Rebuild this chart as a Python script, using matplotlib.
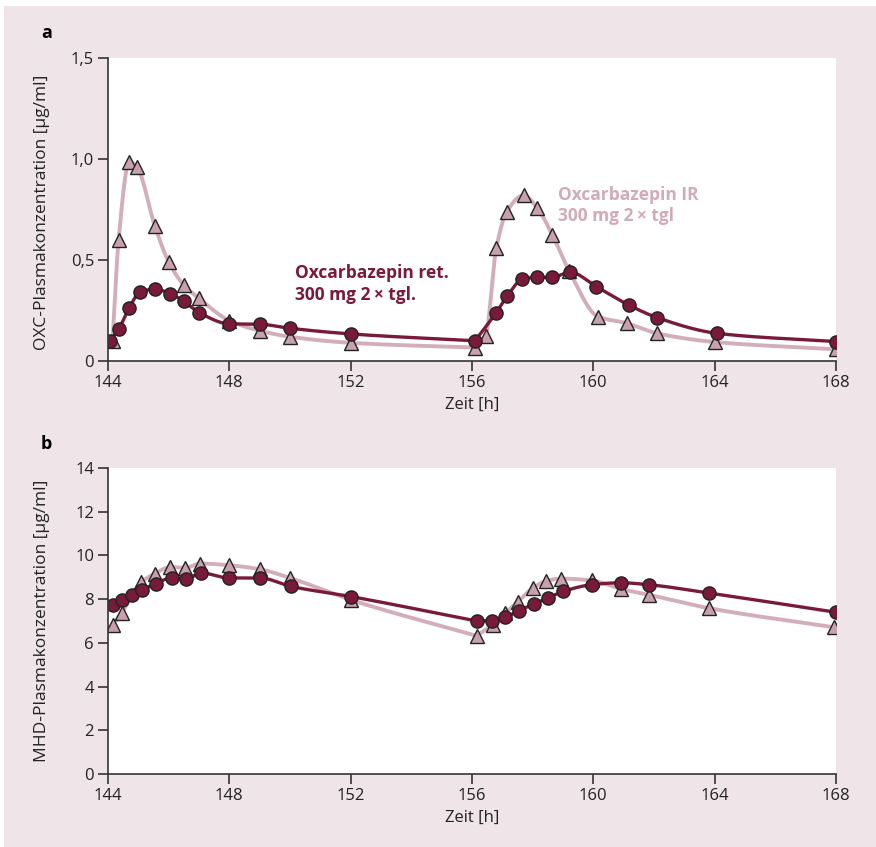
import numpy as np
import matplotlib
matplotlib.use("Agg")
import matplotlib.pyplot as plt
from matplotlib.patches import Rectangle

plt.rcParams['font.family'] = ['Open Sans', 'DejaVu Sans']

# ---------------- data ----------------
# Panel a: OXC plasma concentration [µg/ml]
t_ir_a = [144.15, 144.35, 144.7, 144.95, 145.55, 146.0, 146.5, 147.0, 148.0, 149.0, 150.0, 152.0,
          156.1, 156.45, 156.8, 157.15, 157.7, 158.15, 158.65, 159.2, 160.15, 161.1, 162.1, 164.0, 168.0]
c_ir_a = [0.10, 0.60, 0.985, 0.96, 0.666, 0.49, 0.376, 0.31, 0.20, 0.15, 0.12, 0.09,
          0.066, 0.124, 0.558, 0.74, 0.82, 0.758, 0.624, 0.447, 0.22, 0.187, 0.137, 0.094, 0.058]

t_ret_a = [144.07, 144.36, 144.69, 145.05, 145.55, 146.04, 146.5, 147.0, 148.0, 149.0, 150.0, 152.0,
           156.1, 156.8, 157.17, 157.66, 158.13, 158.65, 159.23, 160.1, 161.17, 162.1, 164.08, 168.0]
c_ret_a = [0.10, 0.16, 0.26, 0.34, 0.356, 0.334, 0.295, 0.24, 0.184, 0.182, 0.162, 0.134,
           0.10, 0.24, 0.323, 0.405, 0.414, 0.414, 0.44, 0.368, 0.277, 0.215, 0.137, 0.096]

# Panel b: MHD plasma concentration [µg/ml]
t_ir_b = [144.15, 144.45, 145.1, 145.55, 146.06, 146.55, 147.03, 148.0, 149.0, 150.0, 152.0,
          156.15, 156.68, 157.08, 157.5, 158.0, 158.45, 158.92, 159.94, 160.9, 161.83, 163.8, 167.95]
c_ir_b = [6.82, 7.37, 8.78, 9.17, 9.47, 9.43, 9.63, 9.55, 9.37, 8.97, 7.97,
          6.32, 6.83, 7.35, 7.86, 8.5, 8.83, 8.94, 8.86, 8.47, 8.2, 7.59, 6.71]

t_ret_b = [144.15, 144.45, 144.8, 145.13, 145.57, 146.1, 146.57, 147.06, 148.0, 149.0, 150.04, 152.0,
           156.15, 156.67, 157.1, 157.55, 158.05, 158.5, 159.0, 159.94, 160.9, 161.83, 163.8, 168.0]
c_ret_b = [7.74, 7.97, 8.17, 8.43, 8.71, 8.97, 8.9, 9.2, 8.97, 8.97, 8.58, 8.12,
           7.0, 7.02, 7.17, 7.48, 7.78, 8.05, 8.35, 8.66, 8.75, 8.66, 8.28, 7.40]

# second dose time (curves have a kink there)
dose_time = 156.0

x_ticks = [144, 148, 152, 156, 160, 164, 168]
y_ticks_a = [0, 0.5, 1.0, 1.5]
y_ticklabels_a = ["0", "0,5", "1,0", "1,5"]
y_ticks_b = [0, 2, 4, 6, 8, 10, 12, 14]

label_ret = "Oxcarbazepin ret.\n300 mg 2\u2009\u00d7 tgl."
label_ir = "Oxcarbazepin IR\n300 mg 2\u2009\u00d7 tgl"

# ---------------- style ----------------
BG = '#efe4e8'
DARK = '#7a1a3b'
IR_LINE = '#d3aeba'
IR_FILL = '#c9a1ae'
IR_TEXT = '#d2abb8'
SPINE = '#333333'


def smooth(x, y, xn, kink_x):
    """Monotone cubic Hermite curve through the points, with a kink at kink_x."""
    x = np.asarray(x, float); y = np.asarray(y, float)
    h = np.diff(x); d = np.diff(y) / h
    n = len(x)
    mL = np.zeros(n)  # slope used by segment ending at point
    mR = np.zeros(n)  # slope used by segment starting at point
    for k in range(1, n - 1):
        if abs(x[k] - kink_x) < 0.4:
            mL[k] = d[k - 1]
            mR[k] = d[k]
            continue
        if d[k - 1] * d[k] <= 0:
            m = 0.0
        else:
            w1 = 2 * h[k] + h[k - 1]
            w2 = h[k] + 2 * h[k - 1]
            m = (w1 + w2) / (w1 / d[k - 1] + w2 / d[k])
        mL[k] = mR[k] = m
    mR[0] = d[0]; mL[-1] = d[-1]
    idx = np.clip(np.searchsorted(x, xn) - 1, 0, n - 2)
    t = (xn - x[idx]) / h[idx]
    h00 = 2 * t**3 - 3 * t**2 + 1
    h10 = t**3 - 2 * t**2 + t
    h01 = -2 * t**3 + 3 * t**2
    h11 = t**3 - t**2
    return h00 * y[idx] + h10 * h[idx] * mR[idx] + h01 * y[idx + 1] + h11 * h[idx] * mL[idx + 1]


W, H = 876, 847
fig = plt.figure(figsize=(W / 100, H / 100), dpi=100, facecolor='white')
fig.patches.append(Rectangle((4 / W, 0), 1 - 4 / W, 1 - 6 / H, transform=fig.transFigure,
                             facecolor=BG, edgecolor='none', zorder=-10))

left = 108 / W
width = (836 - 108) / W
ax_a = fig.add_axes([left, 1 - 361 / H, width, (361 - 58) / H])
ax_b = fig.add_axes([left, 1 - 774 / H, width, (774 - 468) / H])


def draw(ax, t_ir, c_ir, t_ret, c_ret):
    xs = np.linspace(min(t_ir), max(t_ir), 2000)
    ax.plot(xs, smooth(t_ir, c_ir, xs, dose_time), color=IR_LINE, lw=2.8, zorder=2,
            solid_capstyle='round', solid_joinstyle='round')
    ax.plot(t_ir, c_ir, linestyle='none', marker='^', markersize=10.5, markerfacecolor=IR_FILL,
            markeredgecolor='#222222', markeredgewidth=1.0, zorder=3)
    xs2 = np.linspace(min(t_ret), max(t_ret), 2000)
    ax.plot(xs2, smooth(t_ret, c_ret, xs2, dose_time), color=DARK, lw=2.4, zorder=4,
            solid_capstyle='round', solid_joinstyle='round')
    ax.plot(t_ret, c_ret, linestyle='none', marker='o', markersize=9.5, markerfacecolor=DARK,
            markeredgecolor='#222222', markeredgewidth=1.0, zorder=5)
    ax.set_xlim(144, 168)
    ax.set_xticks(x_ticks)
    ax.set_xticklabels([str(v) for v in x_ticks])
    for s in ['top', 'right']:
        ax.spines[s].set_visible(False)
    for s in ['left', 'bottom']:
        ax.spines[s].set_color(SPINE)
        ax.spines[s].set_linewidth(1.2)
    ax.tick_params(direction='out', length=7, width=1.2, color=SPINE, labelsize=12,
                   labelcolor='#222222', pad=3)
    ax.set_xlabel("Zeit [h]", fontsize=12, color='#222222', labelpad=4)
    ax.set_facecolor('white')
    for sp in ax.spines.values():
        sp.set_zorder(6)


draw(ax_a, t_ir_a, c_ir_a, t_ret_a, c_ret_a)
ax_a.set_ylim(0, 1.5)
ax_a.set_yticks(y_ticks_a)
ax_a.set_yticklabels(y_ticklabels_a)
ax_a.set_ylabel("OXC-Plasmakonzentration [µg/ml]", fontsize=12.5, color='#222222')
ax_a.yaxis.set_label_coords(-0.08, 0.49)
ax_a.text(150.15, 0.38, label_ret, color=DARK, fontsize=12.5, fontweight='bold',
          va='center', ha='left', linespacing=1.25)
ax_a.text(158.85, 0.77, label_ir, color=IR_TEXT, fontsize=12.5, fontweight='bold',
          va='center', ha='left', linespacing=1.25)

draw(ax_b, t_ir_b, c_ir_b, t_ret_b, c_ret_b)
ax_b.set_ylim(0, 14)
ax_b.set_yticks(y_ticks_b)
ax_b.set_yticklabels([str(v) for v in y_ticks_b])
ax_b.set_ylabel("MHD-Plasmakonzentration [µg/ml]", fontsize=12.5, color='#222222')
ax_b.yaxis.set_label_coords(-0.08, 0.5)

fig.text(41 / W, 1 - 33 / H, "a", fontsize=13, fontweight='bold', va='center', ha='left')
fig.text(41 / W, 1 - 444 / H, "b", fontsize=13, fontweight='bold', va='center', ha='left')

fig.savefig("out.png", dpi=100, facecolor=fig.get_facecolor())
